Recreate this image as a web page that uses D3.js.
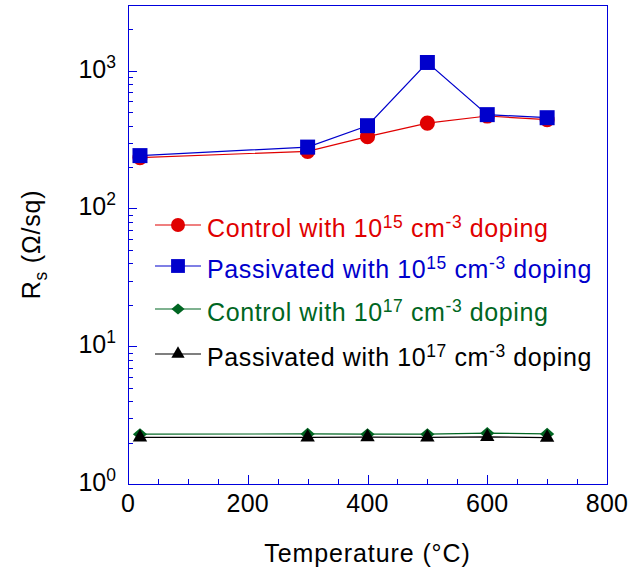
<!DOCTYPE html>
<html>
<head>
<meta charset="utf-8">
<script src="https://cdn.jsdelivr.net/npm/d3@7/dist/d3.min.js"></script>
<style>
  html, body { margin: 0; padding: 0; background: #fff; }
  svg { display: block; font-family: "Liberation Sans", Arial, Helvetica, sans-serif; }
</style>
</head>
<body>
<svg id="chart" width="631" height="571"></svg>
<script>
// Sheet resistance vs. annealing temperature
const temperatures = [20, 300, 400, 500, 600, 700];
const control15 = [234, 260, 332, 417, 469, 441];
const passivated15 = [242, 279, 399, 1148, 480, 456];
const control17 = [2.30, 2.31, 2.30, 2.30, 2.34, 2.31];
const passivated17 = [2.18, 2.18, 2.19, 2.18, 2.20, 2.17];

const xTicks = [0, 200, 400, 600, 800];
const yTickExponents = [0, 1, 2, 3];

const seriesNames = [
  { pre: "Control with 10", exp: "15", unit: " cm", uexp: "-3", post: " doping" },
  { pre: "Passivated with 10", exp: "15", unit: " cm", uexp: "-3", post: " doping" },
  { pre: "Control with 10", exp: "17", unit: " cm", uexp: "-3", post: " doping" },
  { pre: "Passivated with 10", exp: "17", unit: " cm", uexp: "-3", post: " doping" }
];

// custom diamond, a little wider than tall
const wideDiamond = {
  draw(ctx, size) {
    const w = Math.sqrt(size) * 0.58, h = w * 0.85;
    ctx.moveTo(0, -h); ctx.lineTo(w, 0); ctx.lineTo(0, h); ctx.lineTo(-w, 0); ctx.closePath();
  }
};

const series = [
  { values: control15, color: "#e00000", symbol: d3.symbolCircle, size: 180 },
  { values: passivated15, color: "#0000cc", symbol: d3.symbolSquare, size: 225 },
  { values: control17, color: "#006622", symbol: wideDiamond, size: 150 },
  { values: passivated17, color: "#000000", symbol: d3.symbolTriangle, size: 90 }
];

const W = 631, H = 571;
const margin = { left: 128, right: 24, top: 5, bottom: 87 };
const axisColor = "#0000dd";
const FS = 25, SUP = 17.5, LS = "0.6px";
const svg = d3.select("#chart");

const x = d3.scaleLinear().domain([0, 800]).range([margin.left, W - margin.right]);
const y = d3.scaleLog().domain([1, 3000]).range([H - margin.bottom, margin.top]);

// frame
svg.append("rect")
  .attr("x", x(0) + 0.5).attr("y", y(3000) + 0.5)
  .attr("width", x(800) - x(0)).attr("height", y(1) - y(3000))
  .attr("fill", "none").attr("stroke", axisColor).attr("stroke-width", 1);

// x axis ticks (inward)
const xMinor = d3.range(0, 801, 50).filter(v => v % 200 !== 0);
const gx = svg.append("g");
gx.selectAll("line.maj").data(xTicks).join("line")
  .attr("x1", d => Math.round(x(d)) + 0.5).attr("x2", d => Math.round(x(d)) + 0.5)
  .attr("y1", y(1)).attr("y2", y(1) - 9)
  .attr("stroke", axisColor);
gx.selectAll("line.min").data(xMinor).join("line")
  .attr("x1", d => Math.round(x(d)) + 0.5).attr("x2", d => Math.round(x(d)) + 0.5)
  .attr("y1", y(1)).attr("y2", y(1) - 5)
  .attr("stroke", axisColor);
gx.selectAll("text").data(xTicks).join("text")
  .attr("x", d => x(d)).attr("y", y(1) + 28)
  .attr("text-anchor", "middle").attr("font-size", FS).attr("letter-spacing", "0.3px").attr("fill", "#000")
  .text(d => d);

// y axis ticks (inward)
const gy = svg.append("g");
const yMajor = yTickExponents.map(e => Math.pow(10, e));
const yMinor = [];
for (let e = 0; e <= 3; e++) for (let m = 2; m <= 9; m++) {
  const v = m * Math.pow(10, e);
  if (v <= 3000) yMinor.push(v);
}
gy.selectAll("line.maj").data(yMajor).join("line")
  .attr("x1", x(0)).attr("x2", x(0) + 9)
  .attr("y1", d => Math.round(y(d)) + 0.5).attr("y2", d => Math.round(y(d)) + 0.5)
  .attr("stroke", axisColor);
gy.selectAll("line.min").data(yMinor).join("line")
  .attr("x1", x(0)).attr("x2", x(0) + 5)
  .attr("y1", d => Math.round(y(d)) + 0.5).attr("y2", d => Math.round(y(d)) + 0.5)
  .attr("stroke", axisColor);
const yLab = gy.selectAll("text").data(yTickExponents).join("text")
  .attr("x", 116).attr("y", d => y(Math.pow(10, d)) + 7)
  .attr("text-anchor", "end").attr("font-size", FS).attr("fill", "#000");
yLab.append("tspan").text("10");
yLab.append("tspan").attr("font-size", SUP).attr("dy", -10).text(d => d);

// axis titles
svg.append("text")
  .attr("x", (x(0) + x(800)) / 2).attr("y", 562)
  .attr("text-anchor", "middle").attr("font-size", FS).attr("letter-spacing", "0.9px").attr("fill", "#000")
  .text("Temperature (\u00B0C)");

const yt = svg.append("text")
  .attr("transform", `translate(40,${(y(1) + y(3000)) / 2}) rotate(-90)`)
  .attr("text-anchor", "middle").attr("font-size", FS).attr("letter-spacing", "0.8px").attr("fill", "#000");
yt.append("tspan").text("R");
yt.append("tspan").attr("font-size", SUP).attr("dy", 7).text("s");
yt.append("tspan").attr("dy", -7).text("\u00A0(\u03A9/sq)");

// series lines and markers
const line = d3.line().x((d, i) => x(temperatures[i])).y(d => y(d));
series.forEach(s => {
  const g = svg.append("g");
  g.append("path").datum(s.values)
    .attr("d", line).attr("fill", "none").attr("stroke", s.color).attr("stroke-width", 1.2);
  g.selectAll("path.m").data(s.values).join("path")
    .attr("class", "m")
    .attr("transform", (d, i) => `translate(${x(temperatures[i])},${y(d)})`)
    .attr("d", d3.symbol().type(s.symbol).size(s.size)())
    .attr("fill", s.color);
});

// legend
const legendRows = [225, 266, 309, 354];
series.forEach((s, i) => {
  const ly = legendRows[i];
  const g = svg.append("g");
  g.append("line").attr("x1", 155).attr("x2", 201).attr("y1", ly).attr("y2", ly)
    .attr("stroke", s.color).attr("stroke-width", 1.2);
  g.append("path").attr("transform", `translate(178,${ly})`)
    .attr("d", d3.symbol().type(s.symbol).size(s.size * 0.85)())
    .attr("fill", s.color);
  const t = g.append("text").attr("x", 207).attr("y", ly + 12)
    .attr("font-size", FS).attr("letter-spacing", LS).attr("fill", s.color);
  const n = seriesNames[i];
  t.append("tspan").text(n.pre);
  t.append("tspan").attr("font-size", SUP).attr("dy", -9).text(n.exp);
  t.append("tspan").attr("dy", 9).text(n.unit);
  t.append("tspan").attr("font-size", SUP).attr("dy", -9).text(n.uexp);
  t.append("tspan").attr("dy", 9).text(n.post);
});
</script>
</body>
</html>
